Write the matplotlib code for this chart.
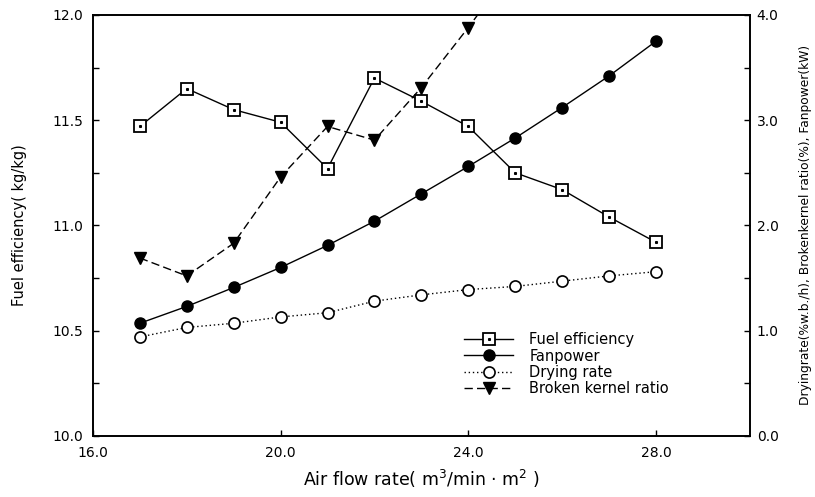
import matplotlib
matplotlib.use("Agg")
import matplotlib.pyplot as plt
from matplotlib.legend_handler import HandlerTuple

plt.rcParams['font.family'] = ['DejaVu Sans']

# Air flow rate (m3/min·m2)
air_flow = [17, 18, 19, 20, 21, 22, 23, 24, 25, 26, 27, 28]

# Left axis: fuel efficiency (kg/kg)
fuel_eff = [11.47, 11.65, 11.55, 11.49, 11.27, 11.70, 11.59, 11.47, 11.25, 11.17, 11.04, 10.92]

# Right axis: fan power (kW), drying rate (%w.b./h), broken kernel ratio (%)
fan_power = [1.07, 1.23, 1.41, 1.60, 1.81, 2.04, 2.30, 2.56, 2.83, 3.12, 3.42, 3.75]
drying_rate = [0.94, 1.03, 1.07, 1.13, 1.17, 1.28, 1.34, 1.39, 1.42, 1.47, 1.52, 1.56]
broken_x = [17, 18, 19, 20, 21, 22, 23, 24, 25]
broken_ratio = [1.69, 1.52, 1.83, 2.46, 2.94, 2.81, 3.31, 3.88, 4.48]

x_ticks = [16, 20, 24, 28]
left_ticks = [10.0, 10.5, 11.0, 11.5, 12.0]
right_ticks = [0, 1, 2, 3, 4]

fig = plt.figure(figsize=(8.15, 4.97), dpi=100)
ax = fig.add_axes([0.114, 0.123, 0.806, 0.847])
ax2 = ax.twinx()

lw = 1.0
fs = 10

sq, = ax.plot(air_flow, fuel_eff, color='black', lw=lw, marker='s', markersize=8,
              markerfacecolor='white', markeredgecolor='black', markeredgewidth=1.3, zorder=3)
dot, = ax.plot(air_flow, fuel_eff, ls='none', marker='s', markersize=1.2,
               color='black', zorder=4)

fp, = ax2.plot(air_flow, fan_power, color='black', lw=lw, marker='o', markersize=8,
               markerfacecolor='black', markeredgecolor='black')
dr, = ax2.plot(air_flow, drying_rate, color='black', lw=lw, ls=(0, (1, 2)), marker='o',
               markersize=8, markerfacecolor='white', markeredgecolor='black',
               markeredgewidth=1.2)
br, = ax2.plot(broken_x, broken_ratio, color='black', lw=lw, ls=(0, (6, 3)), marker='v',
               markersize=8, markerfacecolor='black', markeredgecolor='black')

ax.set_xlim(16, 30)
ax.set_ylim(10.0, 12.0)
ax2.set_ylim(0, 4)

ax.set_xticks(x_ticks)
ax.set_xticklabels([f"{v:.1f}" for v in x_ticks], fontsize=fs)
ax.set_yticks(left_ticks)
ax.set_yticklabels([f"{v:.1f}" for v in left_ticks], fontsize=fs)
ax.set_yticks([10.25, 10.75, 11.25, 11.75], minor=True)
ax2.set_yticks(right_ticks)
ax2.set_yticklabels([f"{v:.1f}" for v in right_ticks], fontsize=fs)
ax2.set_yticks([0.5, 1.5, 2.5, 3.5], minor=True)

for a in (ax, ax2):
    a.tick_params(which='both', direction='in', length=4, width=1.0)
    for s in a.spines.values():
        s.set_linewidth(1.2)
ax.tick_params(axis='x', pad=7)
ax.tick_params(axis='y', pad=7)
ax2.tick_params(axis='y', pad=5)

ax.set_xlabel("Air flow rate( m$^3$/min · m$^2$ )", fontsize=12.5)
ax.xaxis.set_label_coords(0.5, -0.077)
ax.set_ylabel("Fuel efficiency( kg/kg)", fontsize=10.5)
ax.yaxis.set_label_coords(-0.100, 0.5)
ax2.set_ylabel("Dryingrate(%w.b./h), Brokenkernel ratio(%), Fanpower(kW)", fontsize=8.8)
ax2.yaxis.set_label_coords(1.075, 0.5)

leg = ax.legend([(sq, dot), fp, dr, br],
                ["Fuel efficiency", "Fanpower", "Drying rate", "Broken kernel ratio"],
                handler_map={tuple: HandlerTuple(ndivide=1)},
                loc='center left', bbox_to_anchor=(0.553, 0.267),
                bbox_transform=fig.transFigure, frameon=False,
                fontsize=10.5, handlelength=3.4, handletextpad=1.1, labelspacing=0.1)

fig.savefig("out.png", dpi=100)
